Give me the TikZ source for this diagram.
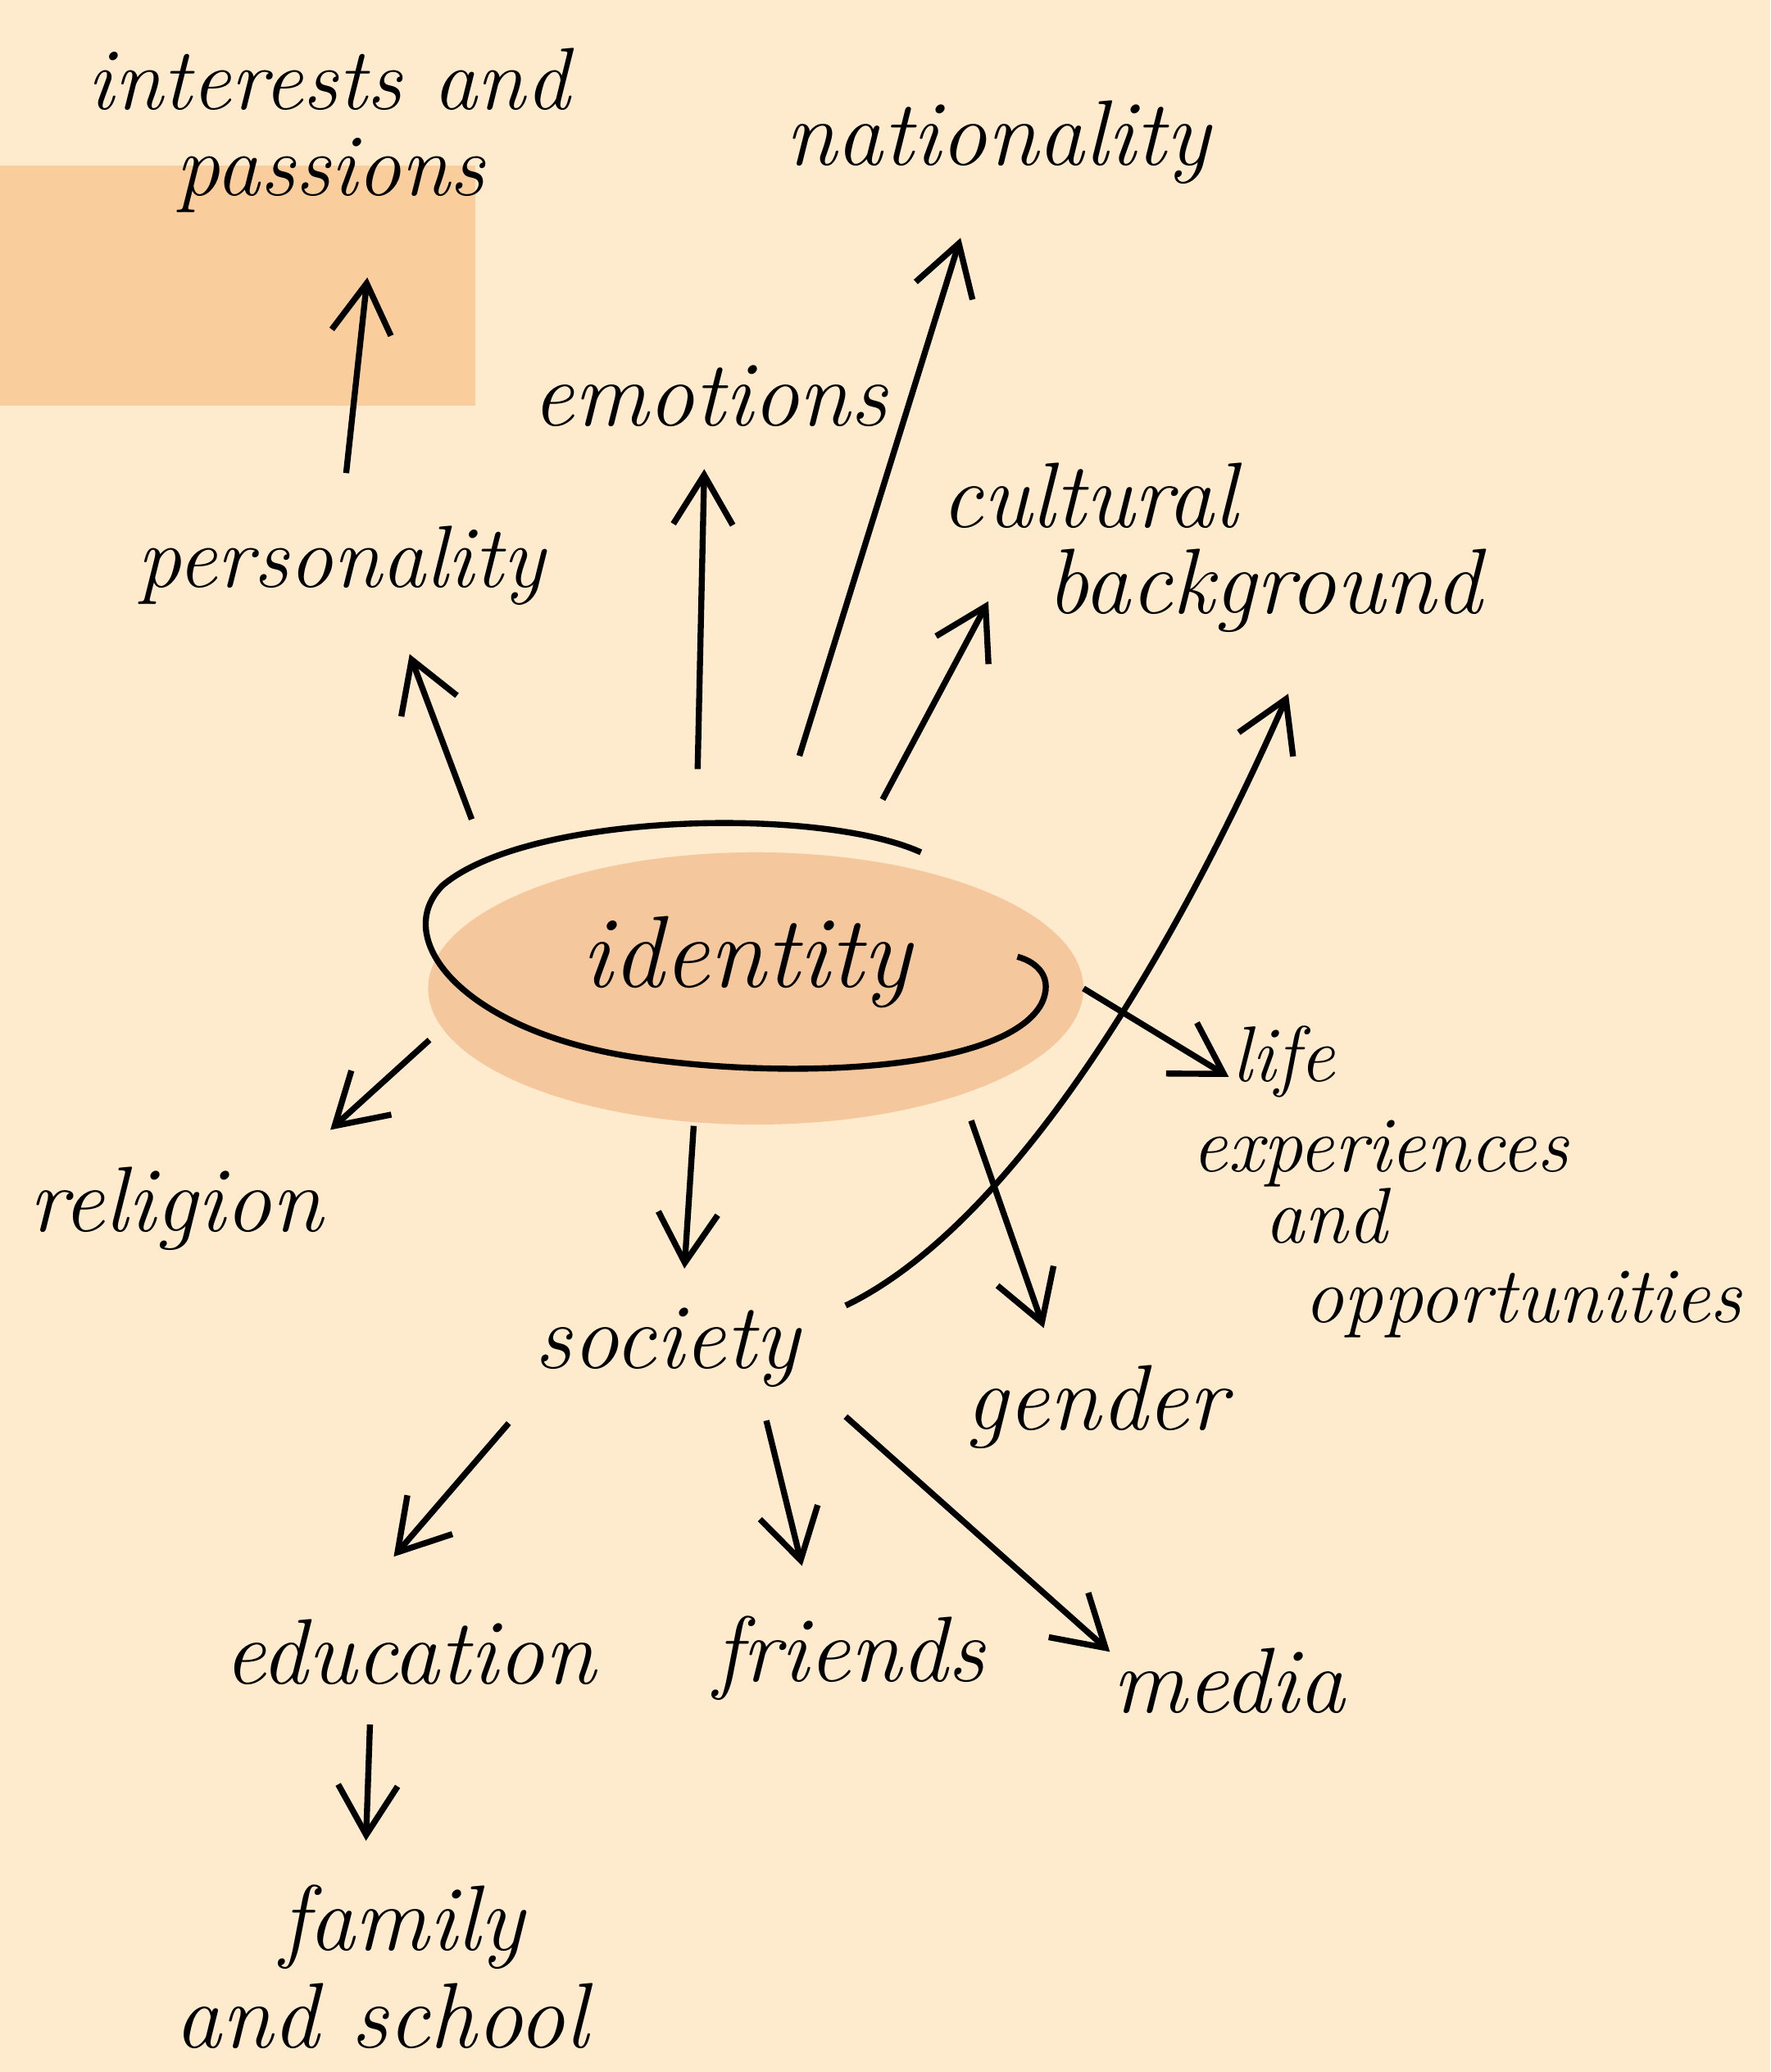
\documentclass[tikz,border=0pt]{standalone}
\usetikzlibrary{arrows.meta,shapes.geometric}
\definecolor{bgc}{HTML}{FEEACC}
\definecolor{rectc}{HTML}{FACE9C}
\definecolor{ellc}{HTML}{F4C89C}
\begin{document}
\begin{tikzpicture}[x=0.02cm,y=-0.02cm,
  lbl/.style={font=\fontsize{40}{46}\selectfont\itshape, inner sep=0pt, align=center},
  blk/.style={inner sep=0pt, align=left, anchor=north west},
  arr/.style={line width=2.6pt, -{Straight Barb[length=0.75cm,width=0.9cm,line width=2.6pt]}},
  ink/.style={line width=2.6pt}]
\useasboundingbox (0,0) rectangle (1340,1568);
\fill[bgc] (0,0) rectangle (1340,1568);
\fill[rectc] (0,125) rectangle (360,307);
\node[ellipse, fill=ellc, minimum width=9.92cm, minimum height=4.12cm, inner sep=0pt] (idf) at (572,748) {};
% hand-drawn loop
\draw[ink] (697,645) .. controls (620,610) and (400,615) .. (335,670)
  .. controls (295,710) and (350,780) .. (480,800)
  .. controls (600,818) and (760,810) .. (788,760)
  .. controls (798,740) and (785,728) .. (770,724);
% labels
\node[blk, font=\fontsize{38}{37}\selectfont\itshape] (int) at (66,36) {interests and\\\hspace*{1.34cm}passions};
\node[lbl] (nat) at (755,108) {nationality};
\node[lbl] (emo) at (537,300) {emotions};
\node[blk, font=\fontsize{40}{37}\selectfont\itshape] (cul) at (712,350) {cultural\\\hspace*{1.6cm}background};
\node[lbl, font=\fontsize{38}{46}\selectfont\itshape] (per) at (258,428) {personality};
\node[lbl, font=\fontsize{44}{50}\selectfont\itshape] (idt) at (565,728) {identity};
\node[lbl] (rel) at (133,915) {religion};
\node[blk, font=\fontsize{34}{31}\selectfont\itshape] (lif) at (902,776)
  {\hspace*{0.6cm}life\\[7.7pt]experiences\\\hspace*{1.1cm}and\\[3pt]\hspace*{1.7cm}opportunities};
\node[lbl] (soc) at (505,1020) {society};
\node[lbl] (gen) at (830,1065) {gender};
\node[lbl] (edu) at (310,1250) {education};
\node[lbl] (fri) at (643,1255) {friends};
\node[lbl] (med) at (930,1272) {media};
\node[blk, font=\fontsize{40}{42}\selectfont\itshape] (fam) at (132,1426) {\hspace*{1.6cm}family\\and school};
% connector ends
\coordinate (a1s) at (262,358); \coordinate (a1e) at (278,210);
\coordinate (a2s) at (357,620); \coordinate (a2e) at (310,495);
\coordinate (a3s) at (528,582); \coordinate (a3e) at (533,355);
\coordinate (a4s) at (605,572); \coordinate (a4e) at (727,180);
\coordinate (a5s) at (668,605); \coordinate (a5e) at (748,455);
\coordinate (a6s) at (640,988); \coordinate (a6e) at (975,525);
\coordinate (a7s) at (820,748); \coordinate (a7e) at (930,815);
\coordinate (a8s) at (325,787); \coordinate (a8e) at (250,855);
\coordinate (a9s) at (525,852); \coordinate (a9e) at (518,960);
\coordinate (a10s) at (735,848); \coordinate (a10e) at (790,1005);
\coordinate (a11s) at (385,1077); \coordinate (a11e) at (298,1178);
\coordinate (a12s) at (580,1075); \coordinate (a12e) at (607,1185);
\coordinate (a13s) at (640,1072); \coordinate (a13e) at (840,1250);
\coordinate (a14s) at (280,1305); \coordinate (a14e) at (277,1393);
\draw[arr] (a1s) -- (a1e);
\draw[arr] (a2s) -- (a2e);
\draw[arr] (a3s) -- (a3e);
\draw[arr] (a4s) -- (a4e);
\draw[arr] (a5s) -- (a5e);
\draw[arr] (a6s) .. controls (760,930) and (880,740) .. (a6e);
\draw[arr] (a7s) -- (a7e);
\draw[arr] (a8s) -- (a8e);
\draw[arr] (a9s) -- (a9e);
\draw[arr] (a10s) -- (a10e);
\draw[arr] (a11s) -- (a11e);
\draw[arr] (a12s) -- (a12e);
\draw[arr] (a13s) -- (a13e);
\draw[arr] (a14s) -- (a14e);
\end{tikzpicture}
\end{document}
